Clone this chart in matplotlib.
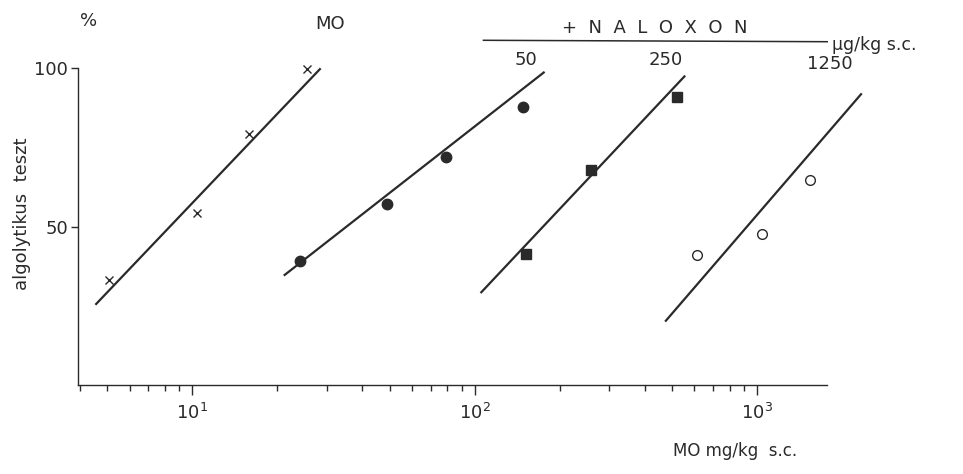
import matplotlib
matplotlib.use("Agg")
import matplotlib.pyplot as plt
from matplotlib.lines import Line2D
from matplotlib.ticker import LogLocator, NullFormatter, FixedLocator

# ---- data ----
mo_x = [5.06, 10.4, 15.9, 25.5]
mo_y = [33.2, 54.3, 79.1, 99.6]
mo_line_x = [4.54, 28.5]
mo_line_y = [25.3, 99.9]

nal50_x = [24.0, 49.1, 78.9, 148]
nal50_y = [39.2, 57.0, 71.9, 87.8]
nal50_line_x = [21.1, 177]
nal50_line_y = [34.5, 98.8]

nal250_x = [152, 259, 521]
nal250_y = [41.4, 67.9, 90.9]
nal250_line_x = [105, 557]
nal250_line_y = [29.0, 97.6]

nal1250_x = [611, 1039, 1546]
nal1250_y = [40.9, 47.5, 64.6]
nal1250_line_x = [473, 2351]
nal1250_line_y = [20.0, 92.0]

dose_labels = ["50", "250", "1250"]
y_ticks = [50, 100]

ink = "#2a2a2a"
plt.rcParams['font.family'] = ['DejaVu Sans']

fig = plt.figure(figsize=(9.63, 4.74), dpi=100)
ax = fig.add_axes([0.081, 0.1878, 0.7778, 0.6687])
ax.set_xscale("log")
ax.set_xlim(3.94, 1771)
ax.set_ylim(0, 100)

lw = 1.6
ax.plot(mo_line_x, mo_line_y, color=ink, lw=lw, clip_on=False, solid_capstyle="butt")
ax.plot(nal50_line_x, nal50_line_y, color=ink, lw=lw, clip_on=False, solid_capstyle="butt")
ax.plot(nal250_line_x, nal250_line_y, color=ink, lw=lw, clip_on=False, solid_capstyle="butt")
ax.plot(nal1250_line_x, nal1250_line_y, color=ink, lw=lw, clip_on=False, solid_capstyle="butt")

ax.plot(mo_x, mo_y, ls="none", marker="x", ms=6, mew=1.0, color=ink, clip_on=False)
ax.plot(nal50_x, nal50_y, ls="none", marker="o", ms=7.5, color=ink, clip_on=False)
ax.plot(nal250_x, nal250_y, ls="none", marker="s", ms=7, color=ink, clip_on=False)
ax.plot(nal1250_x, nal1250_y, ls="none", marker="o", ms=7, mfc="white", mec=ink, mew=1.0, clip_on=False)

for s in ["top", "right"]:
    ax.spines[s].set_visible(False)
for s in ["left", "bottom"]:
    ax.spines[s].set_color(ink)
    ax.spines[s].set_linewidth(1.0)

ax.yaxis.set_major_locator(FixedLocator(y_ticks))
ax.set_yticklabels([str(v) for v in y_ticks])
ax.xaxis.set_major_locator(LogLocator(base=10, numticks=10))
ax.xaxis.set_minor_locator(LogLocator(base=10, subs=range(2, 10), numticks=20))
ax.xaxis.set_minor_formatter(NullFormatter())
ax.tick_params(axis="x", which="major", length=7, width=1.0, color=ink, labelsize=13,
               labelcolor=ink, pad=6)
ax.tick_params(axis="x", which="minor", length=4, width=1.0, color=ink)
ax.tick_params(axis="y", which="major", length=5, width=1.0, color=ink, labelsize=13,
               labelcolor=ink, pad=2)

fs = 13
fig.text(0.023, 0.55, "algolytikus  teszt", fontsize=fs, color=ink, rotation=90,
         ha="center", va="center")
fig.text(0.763, 0.03, "MO mg/kg  s.c.", fontsize=12, color=ink, ha="center", va="bottom")
fig.text(0.092, 0.955, "%", fontsize=13, color=ink, ha="center", va="center")
fig.text(0.343, 0.95, "MO", fontsize=13, color=ink, ha="center", va="center")
fig.text(0.680, 0.94, "+  N  A  L  O  X  O  N", fontsize=13, color=ink, ha="center", va="center")
fig.add_artist(Line2D([0.502, 0.859], [0.915, 0.912], transform=fig.transFigure,
                      color=ink, lw=1.1))
fig.text(0.864, 0.905, "µg/kg s.c.", fontsize=12.5, color=ink, ha="left", va="center")
for lab, xf, yf in zip(dose_labels, [0.546, 0.691, 0.862], [0.874, 0.874, 0.866]):
    fig.text(xf, yf, lab, fontsize=13, color=ink, ha="center", va="center")

fig.savefig("out.png", dpi=100, facecolor="white")
